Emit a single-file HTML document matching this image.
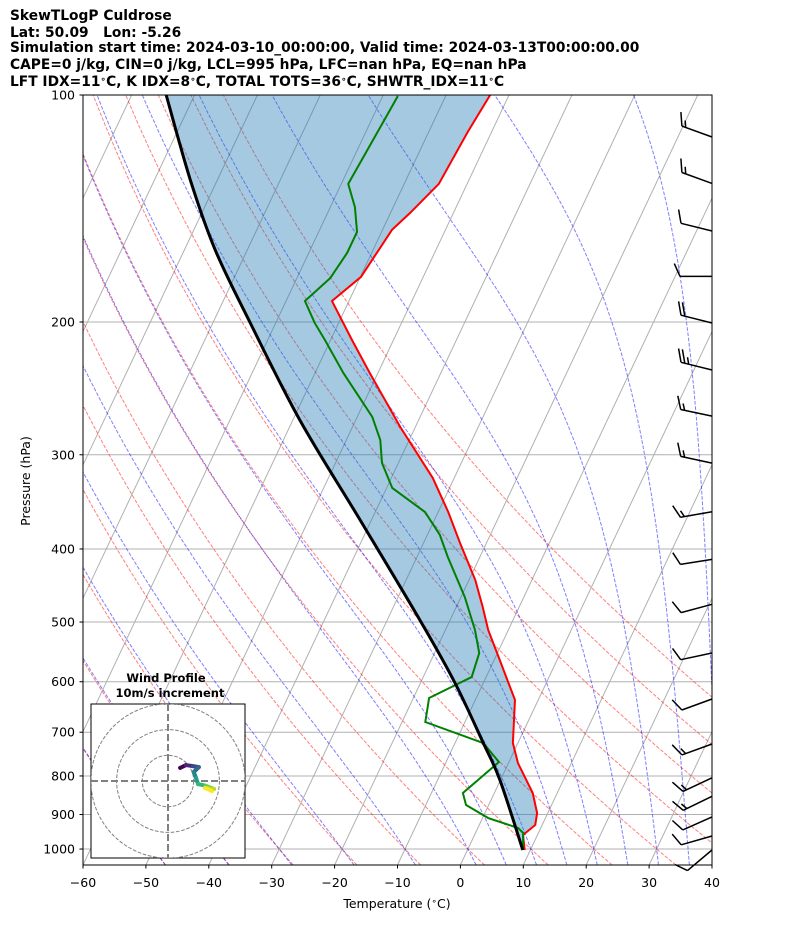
<!DOCTYPE html>
<html><head><meta charset="utf-8">
<style>
body{margin:0;background:#fff;}
#wrap{position:relative;width:794px;height:937px;overflow:hidden;font-family:"DejaVu Sans","Liberation Sans",sans-serif;}
.tl{position:absolute;left:10px;font-weight:bold;font-size:13.8px;line-height:16px;white-space:nowrap;color:#000;}
sup{font-size:9px;vertical-align:4px;line-height:0;}
</style></head>
<body>
<div id="wrap">
<div class="tl" style="top:8px">SkewTLogP Culdrose</div>
<div class="tl" style="top:25px">Lat: 50.09&nbsp;&nbsp;&nbsp;Lon: -5.26</div>
<div class="tl" style="top:40px">Simulation start time: 2024-03-10_00:00:00, Valid time: 2024-03-13T00:00:00.00</div>
<div class="tl" style="top:57px">CAPE=0 j/kg, CIN=0 j/kg, LCL=995 hPa, LFC=nan hPa, EQ=nan hPa</div>
<div class="tl" style="top:74px">LFT IDX=11<sup>∘</sup>C, K IDX=8<sup>∘</sup>C, TOTAL TOTS=36<sup>∘</sup>C, SHWTR_IDX=11<sup>∘</sup>C</div>
<svg id="svg" width="794" height="937" style="position:absolute;left:0;top:0" xmlns="http://www.w3.org/2000/svg">
<defs><clipPath id="clip"><rect x="83" y="95" width="629" height="770"/></clipPath>
<clipPath id="clip2"><rect x="91" y="704" width="154" height="154"/></clipPath></defs>
<g id="bg" clip-path="url(#clip)"></g>
<g id="prof" clip-path="url(#clip)"></g>
<g id="barbs"></g>
<g id="axes"></g>
<g id="inset"></g>
</svg>
</div>
<script>
// ---- data ----
const tempP=[100,112,131.2,143.4,151,174.3,187.6,211.3,233.7,275.6,322.1,357.3,392.8,439.8,477.5,512.3,547.9,634.3,723.5,769,842.8,895.9,929.3,958.1,1003];
const tempT=[-53.0,-53.8,-54.5,-56.9,-58.5,-59.9,-62.7,-56.6,-51.3,-42.4,-33.4,-28.4,-24.2,-19.0,-15.8,-13.2,-10.2,-3.7,-0.8,1.5,6.1,8.3,8.9,7.7,9.1];
const dewP=[100.3,113.7,131.2,140.8,151.9,162,174.9,187.6,200.6,211.3,233.7,267.3,286.8,307.7,332,357.3,383.3,409.9,463.2,512.3,549.6,591.4,630.5,678.5,723.5,766.7,842.8,874.3,909.7,937.8,952.3,1003];
const dewT=[-67.6,-68.2,-68.9,-66.1,-63.9,-63.9,-64.7,-67.0,-63.8,-60.9,-55.5,-47.6,-44.6,-42.6,-39.1,-32.1,-28.0,-25.1,-19.4,-15.3,-12.9,-12.3,-17.5,-16.3,-5.5,-1.6,-5.0,-3.6,0.9,6.4,7.6,8.8];
const parP=[100,129.6,160.5,200,269.8,366.2,497,602.3,723.5,809.9,1003];
const parT=[-104.5,-94.3,-85.1,-74.2,-58.9,-41.8,-24.8,-14.5,-5.5,-0.1,8.8];
const pTicks=[100,200,300,400,500,600,700,800,900,1000];
const tTicks=[-60,-50,-40,-30,-20,-10,0,10,20,30,40];
const barbP=[113.7,131,151.5,174,200.6,231.6,266.6,307.7,357,413,473.7,549.6,632.5,725.6,804.6,851.2,906.6,961,1003];
const barbDir=[20,20,14,0,14,14,12,12,-10,-9,-15,-12,-20,-20,-25,-26,-24,-16,-40];
const barbFull=[1,1,1,1,2,2,1,1,1,1,1,1,1,1,1,1,1,1,1];
const barbHalf=[1,1,0,0,0,1,1,1,1,0,0,0,0,1,1,1,0,0,0];
const hodoU=[4.7,7,9.7,12,10,10.9,11.7,14.8,17.9,14.4,17.1];
const hodoV=[5.1,6.2,5.8,5.4,3.5,1.2,-1.2,-1.9,-3.1,-2.7,-3.9];

const NS="http://www.w3.org/2000/svg";
function yP(p){return 95+Math.log(p/100)/Math.log(10.5)*770;}
function xT(T,p){return 83+(T+60)*6.29+0.4716*(865-yP(p));}
function mk(tag,attrs,parent){const e=document.createElementNS(NS,tag);for(const k in attrs)e.setAttribute(k,attrs[k]);parent.appendChild(e);return e;}
const bg=document.getElementById('bg'),prof=document.getElementById('prof'),ax=document.getElementById('axes'),bb=document.getElementById('barbs'),ins=document.getElementById('inset');

for(const p of pTicks){const l=mk('line',{x1:83,x2:712,y1:yP(p),y2:yP(p),stroke:'#b0b0b0','stroke-width':1},bg);

}
for(let T=-170;T<=40;T+=10){const l=mk('line',{x1:xT(T,1050),y1:yP(1050),x2:xT(T,100),y2:yP(100),stroke:'#b0b0b0','stroke-width':1},bg);

}
const presList=[];for(let p=1050;p>=100;p-=10)presList.push(p);
for(let th=-50;th<=70;th+=10){let d='';presList.forEach((p,i)=>{const T=(th+273.15)*Math.pow(p/1000,0.2857)-273.15;d+=(i?'L':'M')+xT(T,p).toFixed(1)+','+yP(p).toFixed(1);});
const e=mk('path',{d:d,fill:'none',stroke:'red','stroke-opacity':0.5,'stroke-width':1,'stroke-dasharray':'3.7,1.6'},bg);

}
function dTdp(p,T){const Tc=T-273.15;const es=6.112*Math.exp(17.67*Tc/(Tc+243.5));const rs=0.622*es/(p-es);
return ((287.04*T+2.501e6*rs)/p)/(1005.7+2.501e6*2.501e6*rs*0.622/(287.04*T*T));}
function integ(T0,p0,p1,h){const pts=[];let T=T0,p=p0;pts.push([p,T]);const n=Math.round(Math.abs(p1-p0)/h);const s=(p1-p0)/n;
for(let i=0;i<n;i++){const k1=dTdp(p,T),k2=dTdp(p+s/2,T+s/2*k1),k3=dTdp(p+s/2,T+s/2*k2),k4=dTdp(p+s,T+s*k3);T+=s/6*(k1+2*k2+2*k3+k4);p+=s;pts.push([p,T]);}return pts;}
const moistT0=[-50,-40,-30,-20,-10,0,5,10,15,20,25,30,35,40,45];
for(const t0 of moistT0){const up=integ(t0+273.15,1000,100,5);const dn=integ(t0+273.15,1000,1050,5).reverse();
const all=dn.concat(up.slice(1));let d='';all.forEach((q,i)=>{d+=(i?'L':'M')+xT(q[1]-273.15,q[0]).toFixed(1)+','+yP(q[0]).toFixed(1);});
const e=mk('path',{d:d,fill:'none',stroke:'blue','stroke-opacity':0.5,'stroke-width':1,'stroke-dasharray':'3.7,1.6'},bg);

}

function pts(P,T){return P.map((p,i)=>[xT(T[i],p),yP(p)]);}
function smoothPath(a){let d=`M${a[0][0].toFixed(1)},${a[0][1].toFixed(1)}`;
for(let i=0;i<a.length-1;i++){const p0=a[Math.max(0,i-1)],p1=a[i],p2=a[i+1],p3=a[Math.min(a.length-1,i+2)];
const c1=[p1[0]+(p2[0]-p0[0])/6,p1[1]+(p2[1]-p0[1])/6],c2=[p2[0]-(p3[0]-p1[0])/6,p2[1]-(p3[1]-p1[1])/6];
d+=`C${c1[0].toFixed(1)},${c1[1].toFixed(1)} ${c2[0].toFixed(1)},${c2[1].toFixed(1)} ${p2[0].toFixed(1)},${p2[1].toFixed(1)}`;}return d;}
const parPts=pts(parP,parT),tPts=pts(tempP,tempT);
const shd=smoothPath(parPts)+tPts.slice().reverse().map(q=>'L'+q[0].toFixed(1)+','+q[1].toFixed(1)).join('')+'Z';
const sh=mk('path',{d:shd,fill:'#1f77b4','fill-opacity':0.4,stroke:'none'},prof);


const tl=mk('polyline',{points:tPts.map(q=>q.join(',')).join(' '),fill:'none',stroke:'red','stroke-width':2},prof);


const dl=mk('polyline',{points:pts(dewP,dewT).map(q=>q.join(',')).join(' '),fill:'none',stroke:'green','stroke-width':2},prof);


const pl=mk('path',{d:smoothPath(parPts),fill:'none',stroke:'black','stroke-width':3,'stroke-linejoin':'round'},prof);



// barbs
barbP.forEach((p,i)=>{const tx=712,ty=yP(p);const a=barbDir[i]*Math.PI/180;const dx=-Math.cos(a),dy=-Math.sin(a);
const ex=tx+32*dx,ey=ty+32*dy;const ang=Math.atan2(dy,dx)+66*Math.PI/180;const bx=Math.cos(ang),by=Math.sin(ang);
let d=`M${tx},${ty.toFixed(1)}L${ex.toFixed(1)},${ey.toFixed(1)}`;let pos=0;
for(let k=0;k<barbFull[i];k++){const sx=ex-dx*pos,sy=ey-dy*pos;d+=`M${sx.toFixed(1)},${sy.toFixed(1)}l${(14*bx).toFixed(1)},${(14*by).toFixed(1)}`;pos+=4;}
if(barbHalf[i]){if(pos==0)pos=4;const sx=ex-dx*pos,sy=ey-dy*pos;d+=`M${sx.toFixed(1)},${sy.toFixed(1)}l${(7*bx).toFixed(1)},${(7*by).toFixed(1)}`;}
const e=mk('path',{d:d,fill:'none',stroke:'black','stroke-width':1.5},bb);

});

const fr=mk('rect',{x:83,y:95,width:629,height:770,fill:'none',stroke:'black','stroke-width':1},ax);


const ft='font-family:"DejaVu Sans","Liberation Sans",sans-serif;font-size:12.5px';
pTicks.forEach(p=>{const y=yP(p);mk('line',{x1:79.5,x2:83,y1:y,y2:y,stroke:'black'},ax);
const t=mk('text',{x:75,y:y+4.5,'text-anchor':'end',style:ft},ax);t.textContent=p;

});
tTicks.forEach(T=>{const x=83+(T+60)*6.29;mk('line',{x1:x,x2:x,y1:865,y2:868.5,stroke:'black'},ax);
const t=mk('text',{x:x,y:887,'text-anchor':'middle',style:ft},ax);t.textContent=(T<0?'\u2212':'')+Math.abs(T);

});
const xt=mk('text',{x:397,y:908,'text-anchor':'middle',style:ft},ax);xt.innerHTML='Temperature (<tspan font-size="9" dy="-4">∘</tspan><tspan dy="4">C)</tspan>';


const yt=mk('text',{x:30,y:481,'text-anchor':'middle',style:ft,transform:'rotate(-90 30 481)'},ax);yt.textContent='Pressure (hPa)';



const cx=168,cy=781,sc=2.57;
const ib=mk('rect',{x:91,y:704,width:154,height:154,fill:'white',stroke:'black','stroke-width':1},ins);


const ig=mk('g',{'clip-path':'url(#clip2)'},ins);
[10,20,30].forEach(r=>{const c=mk('circle',{cx:cx,cy:cy,r:r*sc,fill:'none',stroke:'gray','stroke-width':1,'stroke-dasharray':'3.7,1.6'},ig);

});
mk('line',{x1:91,x2:245,y1:cy,y2:cy,stroke:'gray','stroke-width':2,'stroke-dasharray':'7,3'},ig);
mk('line',{x1:cx,x2:cx,y1:704,y2:858,stroke:'gray','stroke-width':2,'stroke-dasharray':'7,3'},ig);
const vir=['#440154','#482878','#3e4989','#31688e','#26828e','#1f9e89','#35b779','#6ece58','#b5de2b','#fde725'];
for(let i=0;i<hodoU.length-1;i++){const s=mk('line',{x1:cx+hodoU[i]*sc,y1:cy-hodoV[i]*sc,x2:cx+hodoU[i+1]*sc,y2:cy-hodoV[i+1]*sc,stroke:vir[Math.min(9,Math.round(i*9/(hodoU.length-2)))],'stroke-width':4,'stroke-linecap':'round'},ig);

}
const bt='font-family:"DejaVu Sans","Liberation Sans",sans-serif;font-size:11.5px;font-weight:bold';
const t1=mk('text',{x:166,y:682,'text-anchor':'middle',style:bt},ins);t1.textContent='Wind Profile';


const t2=mk('text',{x:170,y:697,'text-anchor':'middle',style:bt},ins);t2.textContent='10m/s increment';


</script>
</body></html>
